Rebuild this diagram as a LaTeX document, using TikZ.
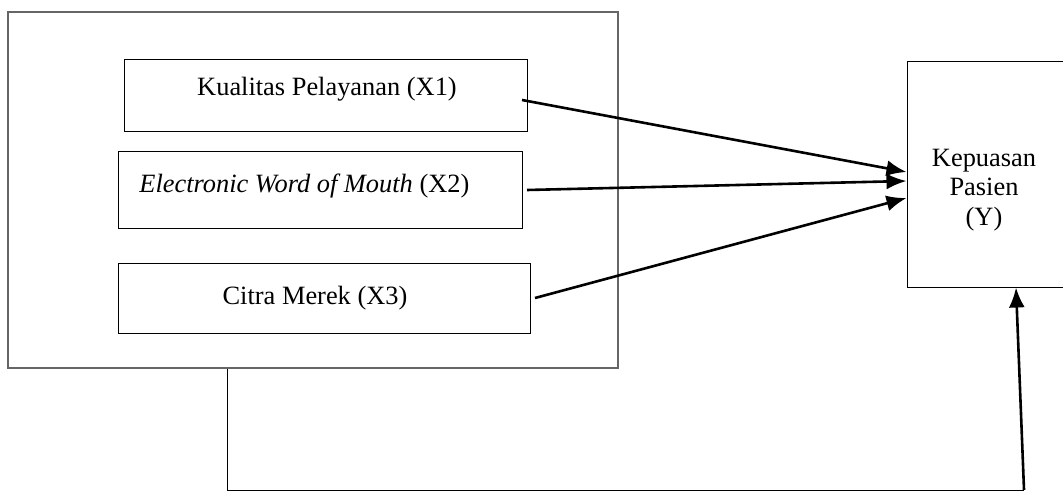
\documentclass[tikz,border=0pt]{standalone}
\usepackage{fontspec}
\setmainfont{Liberation Serif}
\usetikzlibrary{arrows.meta,fit,calc}
\begin{document}
\begin{tikzpicture}[x=0.5pt,y=-0.5pt,
  box/.style={draw=black,line width=0.5pt,inner sep=0pt},
  outerbox/.style={draw=black!60,line width=0.9pt,inner sep=0pt},
  lbl/.style={font=\fontsize{13.2}{15.5}\selectfont,inner sep=0pt},
  arr/.style={line width=1.3pt,-{Latex[length=10pt,width=8pt]}},
  thin/.style={line width=0.5pt}]
\clip (0,0) rectangle (1063,502);
\fill[white] (0,0) rectangle (1063,502);
% outer frame
\node[outerbox,fit={(8,12) (618,368)}] (outer) {};
% inner boxes
\node[box,fit={(124,60) (527,132)}] (x1) {};
\node[box,fit={(118,152) (522,228)}] (x2) {};
\node[box,fit={(118,263) (530,333)}] (x3) {};
\node[box,fit={(907,62) (1075,287)}] (y) {};
% labels
\node[lbl,anchor=base] (t1) at (327,96) {Kualitas Pelayanan (X1)};
\node[lbl,anchor=base west] (t2) at (139,192) {\textit{Electronic Word of Mouth} (X2)};
\node[lbl,anchor=base] (t3) at (315,304) {Citra Merek (X3)};
\node[lbl,anchor=base] (ty1) at (984,167) {Kepuasan};
\node[lbl,anchor=base] (ty2) at (984,196) {Pasien};
\node[lbl,anchor=base] (ty3) at (984,225) {(Y)};
% connectors
\coordinate (s1) at (522,100);
\coordinate (s2) at (527,190);
\coordinate (s3) at (535,298);
\draw[arr] (s1) -- (y.west |- 0,172);
\draw[arr] (s2) -- (y.west |- 0,181);
\draw[arr] (s3) -- (y.west |- 0,198);
% feedback
\coordinate (f0) at (outer.south -| 227,0);
\coordinate (f1) at (227,490);
\coordinate (f2) at (1024,490);
\draw[thin] (f0) -- (f1) -- (f2);
\draw[arr] (f2) -- (y.south -| 1016,0);
\end{tikzpicture}
\end{document}
